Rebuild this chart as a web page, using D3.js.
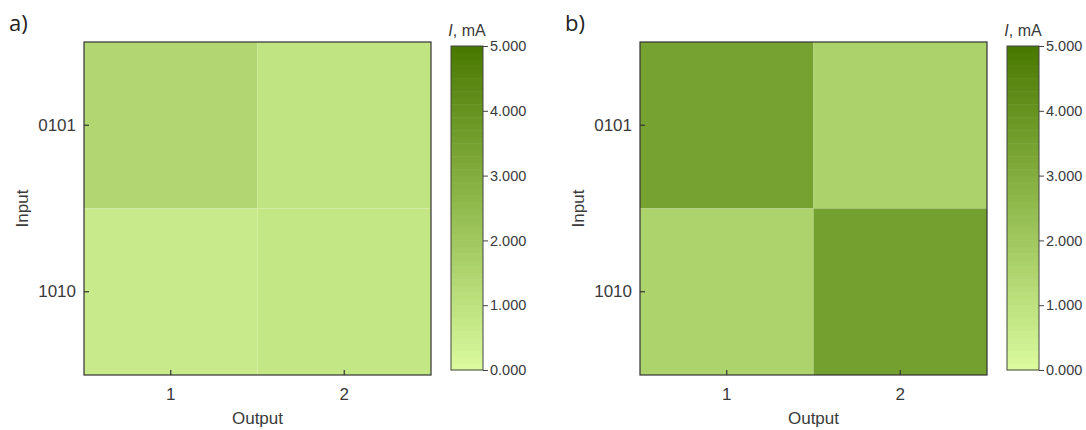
<!DOCTYPE html>
<html>
<head>
<meta charset="utf-8">
<script src="https://cdn.jsdelivr.net/npm/d3@7"></script>
<style>
  html, body { margin: 0; padding: 0; background: #fff; }
  svg { display: block; }
</style>
</head>
<body>
<svg id="chart" width="1086" height="430"></svg>
<script>
// Output channels (columns) and input patterns (rows)
const outputs = ["1", "2"];
const inputs = ["0101", "1010"];

// Current, mA, per [input][output]
const currentA = [
  [1.40, 0.88],
  [0.66, 0.80]
];
const currentB = [
  [3.45, 1.62],
  [1.58, 3.52]
];

// Colour bar ticks, mA
const barTicks = [0, 1, 2, 3, 4, 5];
const panelLetters = ["a)", "b)"];

const FONT = "Liberation Sans, Arial, sans-serif";
const TEXT = "#3a3a3a";

const svg = d3.select("#chart");
const color = d3.scaleLinear()
  .domain([0, 2.5, 5])
  .range(["#dbfb9f", "#92bb4f", "#497800"])
  .clamp(true);

function drawPanel(ox, letter, grid) {
  const left = ox + 84, right = ox + 431, top = 42, bottom = 375;
  const g = svg.append("g");

  const x = d3.scaleBand().domain(outputs).range([left, right]);
  const y = d3.scaleBand().domain(inputs).range([top, bottom]);

  const cells = [];
  inputs.forEach((inp, i) => outputs.forEach((out, j) => cells.push({inp, out, v: grid[i][j]})));

  g.selectAll("rect.cell").data(cells).enter().append("rect")
    .attr("class", "cell")
    .attr("x", d => x(d.out))
    .attr("y", d => y(d.inp))
    .attr("width", x.bandwidth())
    .attr("height", y.bandwidth())
    .attr("fill", d => color(d.v));

  // frame
  g.append("rect")
    .attr("x", left).attr("y", top)
    .attr("width", right - left).attr("height", bottom - top)
    .attr("fill", "none").attr("stroke", "#333").attr("stroke-width", 1.2);

  const xAxis = g.append("g")
    .attr("transform", `translate(0,${bottom})`)
    .call(d3.axisBottom(x).tickSize(-5).tickSizeOuter(0).tickPadding(13));
  xAxis.select(".domain").remove();
  xAxis.selectAll("line").attr("stroke", "#333").attr("stroke-width", 1.2);
  xAxis.selectAll("text").attr("font-family", FONT)
    .attr("font-size", 17).attr("fill", TEXT);

  const yAxis = g.append("g")
    .attr("transform", `translate(${left},0)`)
    .call(d3.axisLeft(y).tickSize(-5).tickSizeOuter(0).tickPadding(8));
  yAxis.select(".domain").remove();
  yAxis.selectAll("line").attr("stroke", "#333").attr("stroke-width", 1.2);
  yAxis.selectAll("text").attr("font-family", FONT)
    .attr("font-size", 17).attr("fill", TEXT);

  g.append("text")
    .attr("x", (left + right) / 2).attr("y", 424)
    .attr("text-anchor", "middle")
    .attr("font-family", FONT)
    .attr("font-size", 17).attr("fill", TEXT)
    .text("Output");

  g.append("text")
    .attr("transform", `translate(${ox + 28},${(top + bottom) / 2}) rotate(-90)`)
    .attr("text-anchor", "middle")
    .attr("font-family", FONT)
    .attr("font-size", 17).attr("fill", TEXT)
    .text("Input");

  g.append("text")
    .attr("x", ox + 9).attr("y", 31)
    .attr("font-family", "Open Sans, sans-serif")
    .attr("font-size", 22).attr("fill", "#222")
    .text(letter);

  // colour bar
  const cbL = ox + 451, cbW = 32, cbTop = 46, cbBot = 370;
  const cy = d3.scaleLinear().domain([0, 5]).range([cbBot, cbTop]);
  const steps = d3.range(0, 5, 0.1);
  g.selectAll("rect.cb").data(steps).enter().append("rect")
    .attr("class", "cb")
    .attr("x", cbL)
    .attr("y", d => cy(d + 0.1))
    .attr("width", cbW)
    .attr("height", d => cy(d) - cy(d + 0.1) + 0.5)
    .attr("fill", d => color(d + 0.05));
  g.append("rect")
    .attr("x", cbL).attr("y", cbTop).attr("width", cbW).attr("height", cbBot - cbTop)
    .attr("fill", "none").attr("stroke", "#444").attr("stroke-width", 1);

  const cAxis = g.append("g")
    .attr("transform", `translate(${cbL + cbW},0)`)
    .call(d3.axisRight(cy).tickValues(barTicks).tickFormat(d3.format(".3f")).tickSize(5).tickPadding(2));
  cAxis.select(".domain").remove();
  cAxis.selectAll("line").attr("stroke", "#444");
  cAxis.selectAll("text").attr("font-family", FONT)
    .attr("font-size", 14.5).attr("fill", TEXT);

  const title = g.append("text")
    .attr("x", cbL + cbW / 2).attr("y", 36)
    .attr("text-anchor", "middle")
    .attr("font-family", FONT)
    .attr("font-size", 16).attr("fill", TEXT);
  title.append("tspan").attr("font-style", "italic").text("I");
  title.append("tspan").text(", mA");
}

drawPanel(0, panelLetters[0], currentA);
drawPanel(556, panelLetters[1], currentB);
</script>
</body>
</html>
